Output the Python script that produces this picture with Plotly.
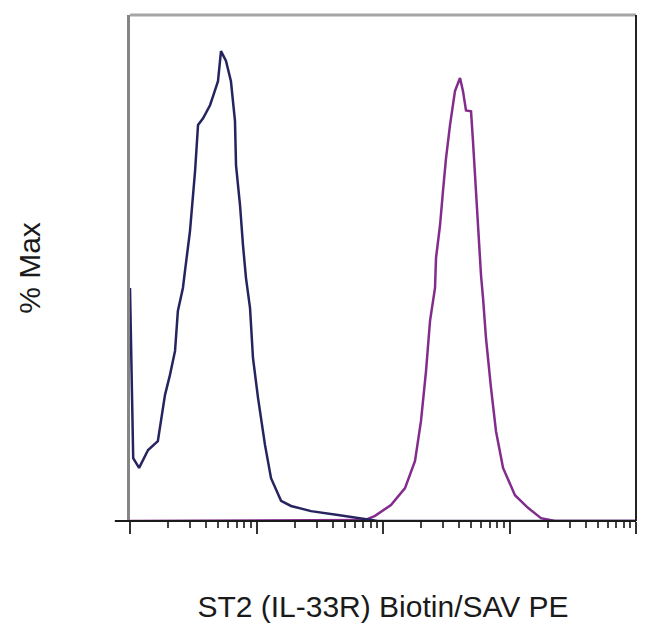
import plotly.graph_objects as go

# fluorescence intensity (log scale) and % of max
control_fl = [10, 10.6, 11.8, 13.9, 16.6, 17.3, 18.9, 20.7, 22.7, 23.9, 26.2, 27.2,
              29.8, 32.7, 34.5, 37.8, 42.9, 45.3, 49.6, 52.4, 57.4, 62.8, 67.6, 68.9,
              74.1, 78.2, 82.6, 88.9, 93.8, 102.8, 116.7, 130.3, 156.3, 187.5, 269.8,
              440.6, 669.9, 912, 100000]
control_pct = [49.6, 13.4, 11.3, 15.1, 17.0, 20.4, 26.8, 31.1, 36.2, 44.7, 49.6, 53.2,
               61.7, 74.5, 84.3, 85.7, 88.5, 90.4, 93.6, 100, 97.9, 93.6, 85.1, 75.7,
               67.2, 58.7, 51.7, 45.3, 34.7, 26.2, 16.2, 9.1, 4.3, 3.2, 2.1,
               1.3, 0.6, 0, 0]

st2_fl = [10, 721, 865, 1156, 1493, 1791, 1997, 2188, 2354, 2577, 2625, 2825, 2980,
          3148, 3388, 3707, 4064, 4289, 4530, 4965, 5143, 5336, 5636, 5955, 6180,
          6518, 7145, 7822, 8892, 11044, 13996, 17742, 22900, 100000]
st2_pct = [0, 0.2, 1.1, 3.4, 7.0, 12.8, 21.3, 31.9, 42.6, 49.6, 56.0, 63.0, 70.2,
           77.2, 84.3, 91.5, 94.3, 91.5, 87.4, 87.2, 80.9, 73.6, 63.0, 52.3, 47.4,
           38.9, 28.3, 19.1, 11.3, 5.5, 2.8, 0.6, 0, 0]

major_ticks = [10, 100, 1000, 10000, 100000]
minor_ticks = [m * d for d in [10, 100, 1000, 10000] for m in range(2, 10)]

fig = go.Figure()
fig.add_trace(go.Scatter(x=st2_fl, y=st2_pct, mode='lines',
                         line=dict(color='#832c8c', width=2.5), name='ST2'))
fig.add_trace(go.Scatter(x=control_fl, y=control_pct, mode='lines',
                         line=dict(color='#26245f', width=2.5), name='control'))

fig.update_layout(
    width=650, height=634,
    margin=dict(l=122, r=22, t=7, b=121),
    paper_bgcolor='white', plot_bgcolor='white',
    showlegend=False,
    font=dict(family='Liberation Sans, Arial', color='#1a1a1a'),
    xaxis=dict(type='log', range=[1, 5], showgrid=False, zeroline=False,
               showline=False, showticklabels=False, automargin=False,
               tickmode='array', tickvals=major_ticks,
               ticks='outside', ticklen=12, tickwidth=2, tickcolor='#333',
               minor=dict(tickmode='array', tickvals=minor_ticks, ticks='outside',
                          ticklen=6, tickwidth=1.5, tickcolor='#444', showgrid=False),
               title=dict(text='ST2 (IL-33R) Biotin/SAV PE', font=dict(size=30),
                          standoff=62)),
    yaxis=dict(range=[0, 107.7], showgrid=False, zeroline=False,
               showline=True, linecolor='#858585', linewidth=3,
               showticklabels=False, ticks='', automargin=False,
               title=dict(text='% Max', font=dict(size=30), standoff=78)),
    shapes=[
        dict(type='line', xref='paper', yref='paper', x0=0, x1=1, y0=1, y1=1,
             line=dict(color='#a5a5a5', width=3)),
        dict(type='line', xref='paper', yref='paper', x0=1, x1=1, y0=0, y1=1,
             line=dict(color='#222', width=2)),
        dict(type='line', xref='paper', yref='paper', x0=-0.03, x1=1, y0=0, y1=0,
             line=dict(color='#1a1a1a', width=2)),
    ],
)

fig.write_html("out.html")
